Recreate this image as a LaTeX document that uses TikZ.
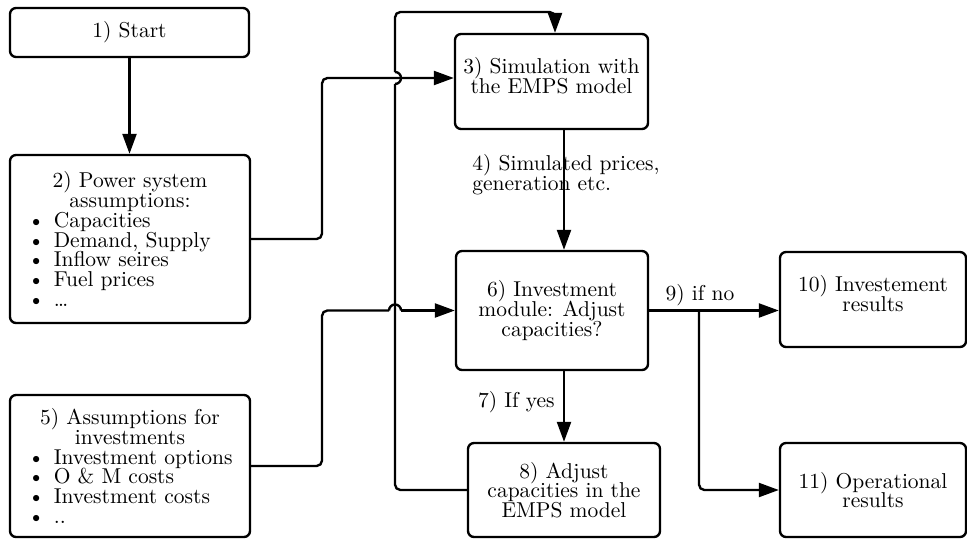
\documentclass[tikz,border=0pt]{standalone}
\usetikzlibrary{arrows.meta}
\newdimen\pxu \pxu=0.465pt
\newcommand\tbfont{\fontsize{10}{9.2}\selectfont\lineskiplimit=-20pt\parindent=0pt}
\newcommand\blt[1]{\mbox{\makebox[12pt][l]{\textbullet}#1}}
\begin{document}
\begin{tikzpicture}[x=\pxu, y=-\pxu,
  box/.style={draw, line width=1.1pt, rounded corners=2.8pt, align=center,
    inner sep=0pt, font=\tbfont},
  listbox/.style={draw, line width=1.1pt, rounded corners=2.8pt,
    inner xsep=18*\pxu, inner ysep=0pt, font=\tbfont, text width=204*\pxu},
  wire/.style={line width=1.1pt, rounded corners=2.5pt},
  hop/.style={line width=1.1pt, sharp corners},
  conn/.style={wire, -{Triangle[length=9.3pt,width=6.5pt]}},
  lbl/.style={font=\tbfont, inner sep=0pt, align=left}]
\useasboundingbox (0,0) rectangle (967,540);

% boxes
\node[box, minimum width=239*\pxu, minimum height=49*\pxu] (b1) at (129.5,32.5) {1) Start};
\node[listbox, minimum height=168*\pxu] (b2) at (130,239)
  {{\centering 2) Power system\\assumptions:\par}\raggedright
   \blt{Capacities}\\\blt{Demand, Supply}\\\blt{Inflow seires}\\\blt{Fuel prices}\\\blt{\dots}};
\node[box, minimum width=193*\pxu, minimum height=95*\pxu, text depth=6pt] (b3) at (551.5,81.5)
  {3) Simulation with\\the EMPS model};
\node[listbox, minimum height=142*\pxu] (b5) at (130,466)
  {{\centering 5) Assumptions for\\investments\par}\raggedright
   \blt{Investment options}\\\blt{O \& M costs}\\\blt{Investment costs}\\\blt{..}};
\node[box, minimum width=192*\pxu, minimum height=119*\pxu] (b6) at (552,310.5)
  {6) Investment\\module: Adjust\\capacities?};
\node[box, minimum width=192*\pxu, minimum height=94*\pxu] (b8) at (564,490)
  {8) Adjust\\capacities in the\\EMPS model};
\node[box, minimum width=186*\pxu, minimum height=95*\pxu, text depth=6pt] (b10) at (873,299.5)
  {10) Investement\\results};
\node[box, minimum width=186*\pxu, minimum height=94*\pxu] (b11) at (873,490)
  {11) Operational\\results};

% hop points where lines cross
\coordinate (h1lo) at (395,84);
\coordinate (h1hi) at (395,72);
\coordinate (h2l) at (389,310.5);
\coordinate (h2r) at (401,310.5);

% connectors
\draw[conn] (b1.south) -- (b1.south |- b2.north);
\draw[conn] (b2.east) -- (322,239) -- (322,78) -- (b3.west |- 0,78);
% b5 -> b6, hopping over the return line
\draw[wire] (b5.east) -- (322,466) -- (322,310.5) -- (h2l);
\draw[hop] (h2l) arc[start angle=180, end angle=0, radius=2.8pt];
\draw[conn] (h2r) -- (b6.west);
% b8 -> b3 return line, hopping over the b2 -> b3 line
\draw[wire] (b8.west) -- (395,490) -- (h1lo);
\draw[hop] (h1lo) arc[start angle=-90, end angle=90, radius=2.8pt];
\draw[conn] (h1hi) -- (395,12) -- (555,12) -- (555,0 |- b3.north);
% main chain
\draw[conn] (b3.south -| b8.north) -- (b6.north -| b8.north);
\draw[conn] (b6.south -| b8.north) -- (b8.north);
\draw[conn] (b6.east) -- (b6.east -| b10.west);
\coordinate (split) at (699,310.5);
\draw[conn] (split) -- (699,490) -- (b11.west);

% connector labels
\node[lbl, anchor=west] (l4) at (472,175) {4) Simulated prices,\\generation etc.};
\node[lbl, anchor=east] (l7) at (555,402) {7) If yes};
\node[lbl] (l9) at (700,295) {9) if no};
\end{tikzpicture}
\end{document}
